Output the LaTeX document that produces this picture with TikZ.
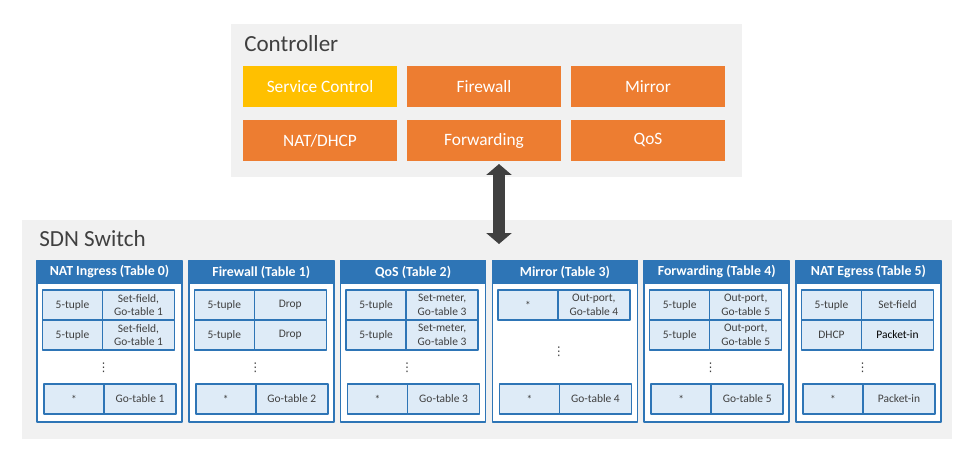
\documentclass[tikz,border=0pt]{standalone}
\usepackage{fontspec}
\setmainfont{Carlito}
\newfontfamily\dotsfont{DejaVu Sans}
\usetikzlibrary{positioning,arrows.meta}
\definecolor{panelgray}{HTML}{F1F1F1}
\definecolor{apporange}{HTML}{ED7D31}
\definecolor{appyellow}{HTML}{FFC000}
\definecolor{tblue}{HTML}{2E75B6}
\definecolor{cellblue}{HTML}{DEEBF7}
\definecolor{txtgray}{HTML}{404040}
\begin{document}
\begin{tikzpicture}[x=0.75pt,y=-0.75pt,line join=round,
	panel/.style={fill=panelgray,inner sep=0pt,outer sep=0pt,anchor=north west},
	app/.style={fill=apporange,text=white,minimum width=115.5pt,minimum height=30.75pt,inner sep=0pt,outer sep=0pt,font=\fontsize{13}{15}\selectfont},
	tframe/.style={draw=tblue,line width=1.1pt,fill=white,minimum width=108.75pt,minimum height=120.75pt,inner sep=0pt,outer sep=0pt,anchor=north west},
	thead/.style={draw=tblue,fill=tblue,line width=1.1pt,text=white,minimum width=108.75pt,minimum height=16.5pt,inner sep=0pt,outer sep=0pt,anchor=north,font=\fontsize{10.4}{12}\selectfont\bfseries},
	cell/.style={draw=tblue,fill=cellblue,line width=1.1pt,text=txtgray,minimum height=22.5pt,inner sep=0pt,outer sep=0pt,align=center,font=\fontsize{8.6}{10.4}\selectfont},
	mcell/.style={cell,minimum width=45pt},
	acell/.style={cell,minimum width=54pt}]
	\useasboundingbox (0,0) rectangle (971,456);
	% grey panels
	\node[panel,minimum width=383.25pt,minimum height=114.75pt] (ctrl) at (231,24) {};
	\node[panel,minimum width=697.5pt,minimum height=164.25pt] (sw) at (22,220) {};
	\node[anchor=base west,inner sep=0pt,text=txtgray,font=\fontsize{17.3}{20}\selectfont] (ctrllbl) at (244,52) {Controller};
	\node[anchor=base west,inner sep=0pt,text=txtgray,font=\fontsize{17.3}{20}\selectfont] (swlbl) at (39,247) {SDN Switch};
	% controller apps
	\node[app,fill=appyellow,anchor=north west] (svc) at (243,66) {Service Control};
	\node[app,right=7.5pt of svc] (fw) {Firewall};
	\node[app,right=7.5pt of fw] (mir) {Mirror};
	\node[app,below=9.75pt of svc] (nat) {NAT/DHCP};
	\node[app,right=7.5pt of nat] (fwd) {Forwarding};
	\node[app,right=7.5pt of fwd] (qos) {QoS};
	% link
	\coordinate (arT) at (499,164);
	\coordinate (arB) at (499,244);
	\draw[txtgray,line width=9pt,{Triangle[width=18.75pt,length=8.25pt]}-{Triangle[width=18.75pt,length=8.25pt]}] (arT) -- (arB);
	% flow tables
	\foreach \i/\ttl in {0/NAT Ingress,1/Firewall,2/QoS,3/Mirror,4/Forwarding,5/NAT Egress}{
		\node[tframe] (t\i) at ({37+151.8*\i},261) {};
		\node[thead] (h\i) at (t\i.north) {\ttl{} (Table \i)};
	}
	\foreach \i/\r/\m/\a in {0/1/5-tuple/{Set-field,\\Go-table 1},0/2/5-tuple/{Set-field,\\Go-table 1},
		1/1/5-tuple/Drop,1/2/5-tuple/Drop,
		2/1/5-tuple/{Set-meter,\\Go-table 3},2/2/5-tuple/{Set-meter,\\Go-table 3},
		3/1/*/{Out-port,\\Go-table 4},
		4/1/5-tuple/{Out-port,\\Go-table 5},4/2/5-tuple/{Out-port,\\Go-table 5},
		5/1/5-tuple/Set-field,5/2/DHCP/{\textcolor{black}{Packet-in}}}{
		\node[mcell,anchor=north west] (m\i\r) at ({42.5+151.8*\i},{260+30*\r}) {\m};
		\node[acell,right=0pt of m\i\r] (a\i\r) {\a};
	}
	\foreach \i/\a in {0/Go-table 1,1/Go-table 2,2/Go-table 3,3/Go-table 4,4/Go-table 5,5/Packet-in}{
		\node[mcell,anchor=north west] (ml\i) at ({44+151.8*\i},384) {*};
		\node[acell,right=0pt of ml\i] (al\i) {\a};
	}
	\foreach \i/\y in {0/368,1/368,2/368,3/352,4/368,5/368}
		\node[text=txtgray,inner sep=0pt,font=\fontsize{9}{10}\dotsfont] (d\i) at ({103.5+151.8*\i},\y) {⋮};
\end{tikzpicture}
\end{document}
